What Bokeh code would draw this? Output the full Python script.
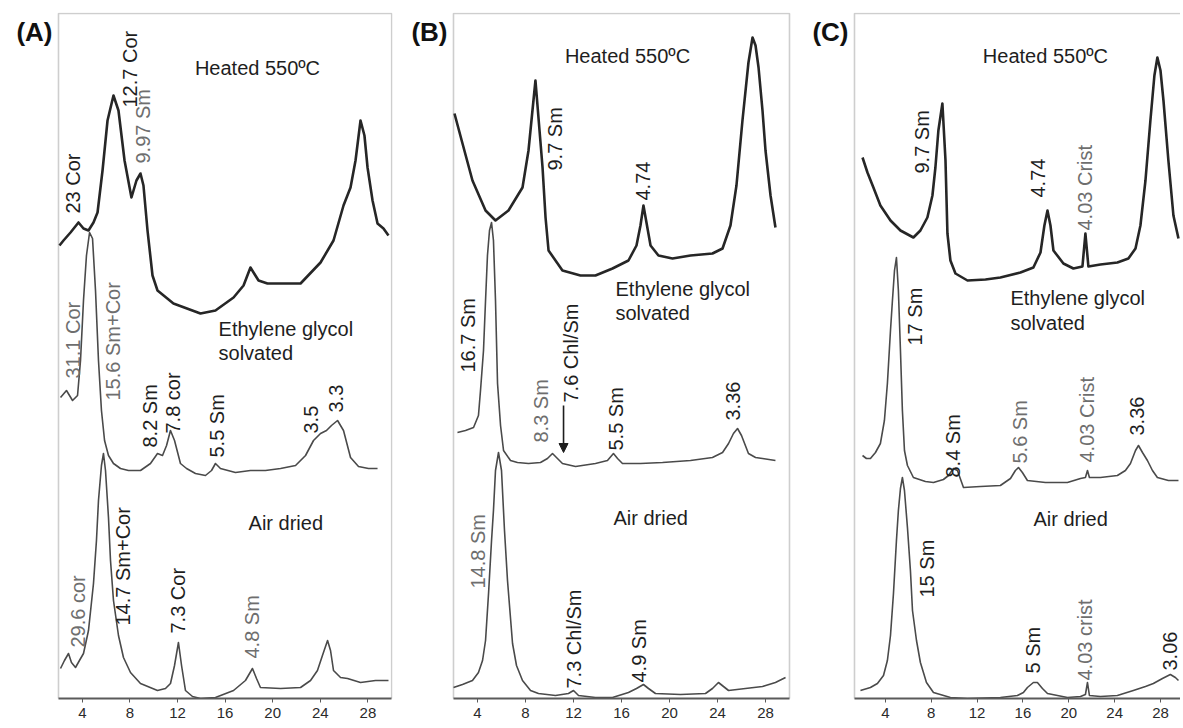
import math
from bokeh.plotting import figure
from bokeh.layouts import row
from bokeh.models import Label, Arrow, NormalHead, FixedTicker, Range1d, BoxAnnotation
from bokeh.embed import file_html
from bokeh.resources import INLINE

# ---------------- data (2-theta in degrees, intensity in arbitrary counts) ----------------
tick_values = [4, 8, 12, 16, 20, 24, 28]

# Panel A
a_heated_2t = [2.08, 2.42, 3.01, 3.68, 4.10, 4.52, 4.94, 5.28, 5.70, 6.12, 6.62, 7.04, 7.55, 8.13, 8.55, 8.89,
               9.14, 9.48, 9.90, 10.32, 11.66, 13.93, 15.19, 16.71, 17.55, 18.13, 18.81, 19.56, 21.08, 22.34,
               24.02, 25.11, 25.95, 26.54, 26.96, 27.38, 27.71, 27.97, 28.39, 28.81, 29.31, 29.73]
a_heated_i = [453, 458, 466, 476, 470, 468, 476, 486, 528, 578, 603, 588, 538, 501, 518, 525,
              513, 468, 423, 408, 395, 385, 388, 401, 413, 431, 418, 415, 415, 415,
              436, 458, 493, 511, 538, 578, 563, 531, 498, 475, 470, 463]
a_glycol_2t = [2.17, 2.67, 3.18, 3.60, 3.85, 4.10, 4.35, 4.61, 4.86, 5.11, 5.36, 5.61, 5.87, 6.20, 6.62, 7.21,
               7.88, 8.89, 9.73, 10.32, 10.74, 11.08, 11.41, 11.75, 12.25, 12.76, 13.51, 14.35, 14.86, 15.19,
               15.61, 16.87, 18.13, 19.39, 20.66, 21.92, 22.76, 23.43, 24.02, 24.52, 24.94, 25.45, 25.95,
               26.54, 27.21, 28.05, 28.81]
a_glycol_i = [301, 308, 298, 303, 338, 398, 443, 466, 460, 408, 338, 288, 258, 243, 235, 230,
              228, 228, 235, 245, 243, 253, 268, 258, 235, 230, 225, 223, 228, 235,
              230, 226, 228, 228, 230, 233, 243, 258, 265, 268, 273, 278, 268,
              241, 232, 230, 230]
a_air_2t = [2.17, 2.50, 2.84, 3.09, 3.43, 3.76, 4.10, 4.52, 4.94, 5.19, 5.36, 5.61, 5.78, 5.95, 6.20, 6.37,
            6.62, 7.04, 7.46, 8.05, 8.89, 10.32, 10.99, 11.41, 11.75, 12.08, 12.34, 12.67, 13.26, 13.93,
            15.19, 16.71, 17.71, 18.30, 18.64, 18.97, 20.66, 22.34, 23.18, 23.76, 24.18, 24.61, 24.86,
            25.11, 25.70, 26.29, 27.38, 28.64, 29.73]
a_air_i = [30, 38, 45, 36, 31, 38, 45, 68, 115, 158, 198, 233, 245, 228, 181, 138,
           98, 63, 41, 26, 15, 8, 10, 15, 33, 56, 33, 8, 2, 0,
           1, 8, 18, 30, 20, 11, 10, 11, 18, 28, 43, 58, 48,
           28, 21, 20, 16, 18, 18]

# Panel B
b_heated_2t = [2.08, 2.75, 3.58, 4.67, 5.50, 6.58, 7.75, 8.25, 8.58, 8.83, 9.08, 9.42, 9.67, 9.92, 11.08,
               12.58, 13.83, 15.25, 16.58, 17.25, 17.58, 17.83, 18.08, 18.42, 19.08, 20.25, 21.75, 23.58,
               24.42, 25.08, 25.58, 26.08, 26.58, 26.92, 27.17, 27.42, 27.75, 28.00, 28.42, 28.83]
b_heated_i = [585, 555, 518, 488, 478, 488, 511, 548, 588, 618, 581, 531, 481, 448, 428,
              423, 423, 430, 438, 453, 473, 493, 476, 453, 443, 440, 443, 445,
              450, 473, 513, 578, 636, 661, 653, 631, 588, 548, 503, 471]
b_glycol_2t = [2.33, 3.00, 3.67, 4.08, 4.25, 4.50, 4.67, 4.83, 5.00, 5.17, 5.33, 5.50, 5.67, 5.92, 6.17,
               6.75, 7.33, 8.25, 9.25, 9.83, 10.25, 10.58, 11.08, 12.17, 13.83, 14.83, 15.33, 15.67, 16.08,
               17.58, 19.42, 21.75, 23.58, 24.42, 24.92, 25.33, 25.67, 26.00, 26.58, 27.17, 27.75, 28.83]
b_glycol_i = [266, 268, 271, 283, 308, 348, 398, 443, 468, 476, 458, 398, 315, 273, 248,
              238, 236, 235, 236, 240, 245, 241, 235, 232, 235, 238, 245, 240, 235,
              235, 236, 238, 241, 246, 255, 265, 270, 263, 245, 241, 240, 238]
b_air_2t = [2.00, 2.75, 3.58, 4.08, 4.42, 4.67, 4.92, 5.17, 5.33, 5.50, 5.75, 6.00, 6.25, 6.50, 6.92,
            7.25, 7.75, 8.42, 9.08, 10.50, 11.58, 12.00, 12.42, 13.83, 15.25, 16.58, 17.25, 17.83,
            18.25, 18.83, 20.92, 23.00, 23.58, 24.08, 24.50, 24.92, 26.33, 27.75, 28.83, 29.67]
b_air_i = [11, 14, 18, 26, 38, 58, 105, 158, 188, 228, 246, 228, 168, 118, 55,
           33, 18, 8, 5, 3, 5, 8, 3, 1, 1, 6, 10, 14,
           10, 5, 4, 5, 10, 16, 12, 8, 10, 12, 16, 21]

# Panel C
c_heated_2t = [2.00, 2.43, 2.95, 3.56, 4.44, 5.31, 6.44, 7.05, 7.66, 8.10, 8.36, 8.62, 8.97, 9.24, 9.41,
               9.67, 10.11, 11.16, 12.73, 14.03, 15.78, 16.91, 17.53, 17.87, 18.14, 18.40, 18.66, 19.53,
               20.40, 21.19, 21.45, 21.71, 22.76, 24.24, 25.20, 25.82, 26.25, 26.69, 27.12, 27.47, 27.73,
               28.00, 28.26, 28.69, 29.13, 29.57]
c_heated_i = [541, 526, 511, 493, 478, 468, 461, 468, 481, 503, 531, 568, 595, 538, 465,
              438, 425, 418, 419, 421, 426, 431, 446, 473, 488, 473, 448, 435,
              430, 432, 465, 432, 434, 436, 440, 450, 473, 518, 578, 623, 641,
              628, 598, 538, 483, 460]
c_glycol_2t = [2.00, 2.34, 2.69, 3.13, 3.56, 3.91, 4.17, 4.44, 4.61, 4.79, 4.96, 5.13, 5.31, 5.48, 5.66,
               5.92, 6.44, 7.49, 8.19, 9.06, 9.50, 9.93, 10.28, 10.81, 12.29, 14.03, 14.91, 15.34, 15.61,
               15.95, 16.39, 17.96, 19.88, 21.02, 21.45, 21.63, 21.80, 22.76, 24.24, 24.94, 25.38, 25.82,
               26.08, 26.43, 26.86, 27.30, 27.73, 28.69, 29.57]
c_glycol_i = [243, 240, 240, 246, 255, 278, 315, 368, 398, 428, 441, 408, 348, 288, 248,
              233, 221, 217, 216, 219, 223, 230, 228, 211, 212, 213, 220, 228, 231,
              226, 218, 216, 216, 220, 221, 228, 221, 221, 223, 228, 235, 248,
              253, 246, 238, 228, 221, 218, 218]
c_air_2t = [1.82, 2.69, 3.30, 3.83, 4.17, 4.44, 4.70, 4.96, 5.13, 5.31, 5.48, 5.66, 5.92, 6.18, 6.36,
            6.71, 7.05, 7.58, 8.19, 9.67, 11.16, 14.03, 15.52, 16.04, 16.39, 16.91, 17.26, 17.70, 18.14,
            19.88, 21.02, 21.45, 21.63, 21.80, 22.76, 24.24, 25.63, 26.69, 27.38, 28.17, 28.86, 29.30, 29.57]
c_air_i = [8, 11, 15, 23, 38, 63, 105, 158, 188, 210, 221, 208, 171, 128, 88,
           58, 36, 16, 6, 1, 0, 1, 3, 6, 11, 16, 16, 10, 5,
           1, 2, 4, 16, 3, 2, 3, 8, 12, 15, 20, 24, 21, 18]

# ---------------- annotations ----------------
TXT = "#1e1e1e"
GRY = "#6e6e6e"
# (text, 2-theta, intensity, colour)   rotated peak labels, anchored at their bottom
a_peak_labels = [("12.7 Cor", 8.05, 591, TXT), ("9.97 Sm", 9.06, 535, GRY), ("23 Cor", 3.18, 485, TXT),
                 ("31.1 Cor", 3.26, 320, GRY), ("15.6 Sm+Cor", 6.54, 298, GRY), ("8.2 Sm", 9.65, 251, TXT),
                 ("7.8 cor", 11.66, 265, TXT), ("5.5 Sm", 15.36, 241, TXT), ("3.5", 23.18, 265, TXT),
                 ("3.3", 25.28, 286, TXT), ("29.6 cor", 3.60, 51, GRY), ("14.7 Sm+Cor", 7.46, 73, TXT),
                 ("7.3 Cor", 12.0, 65, TXT), ("4.8 Sm", 18.30, 40, GRY)]
b_peak_labels = [("9.7 Sm", 10.42, 528, TXT), ("4.74", 17.83, 498, TXT), ("16.7 Sm", 3.17, 326, TXT),
                 ("8.3 Sm", 9.25, 256, GRY), ("7.6 Chl/Sm", 11.75, 296, TXT), ("5.5 Sm", 15.5, 248, TXT),
                 ("3.36", 25.25, 278, TXT), ("14.8 Sm", 4.0, 110, GRY), ("7.3 Chl/Sm", 12.0, 10, TXT),
                 ("4.9 Sm", 17.42, 16, TXT)]
c_peak_labels = [("9.7 Sm", 7.23, 525, TXT), ("4.74", 17.35, 501, TXT), ("4.03 Crist", 21.45, 468, GRY),
                 ("17 Sm", 6.62, 353, TXT), ("8.4 Sm", 9.93, 221, TXT), ("5.6 Sm", 15.78, 235, GRY),
                 ("4.03 Crist", 21.63, 236, GRY), ("3.36", 25.99, 263, TXT), ("15 Sm", 7.66, 101, TXT),
                 ("5 Sm", 16.91, 25, TXT), ("4.03 crist", 21.45, 18, GRY), ("3.06", 28.87, 28, TXT)]
# treatment captions: (text, 2-theta, intensity, align)
a_captions = [("Heated 550ºC", 18.72, 631, "center"), ("Ethylene glycol", 15.45, 370, "left"),
              ("solvated", 15.45, 346, "left"), ("Air dried", 17.97, 176, "left")]
b_captions = [("Heated 550ºC", 16.5, 643, "center"), ("Ethylene glycol", 15.5, 410, "left"),
              ("solvated", 15.5, 386, "left"), ("Air dried", 15.33, 181, "left")]
c_captions = [("Heated 550ºC", 17.96, 643, "center"), ("Ethylene glycol", 14.91, 401, "left"),
              ("solvated", 14.91, 376, "left"), ("Air dried", 16.91, 180, "left")]

FONT = "Liberation Sans"
FIG_H = 726
TOP = 12
BOTTOM = 28


def make_panel(tag, width, box_px, px_per_deg, box_lo, box_hi, right_border,
               curves, peak_labels, captions, show_right=True):
    frame_w = width - right_border
    x_start = box_lo - box_px / px_per_deg
    x_end = x_start + frame_w / px_per_deg
    p = figure(width=width, height=FIG_H, x_range=Range1d(x_start, x_end), y_range=Range1d(0, 686),
               output_backend="svg", toolbar_location=None, y_axis_location=None,
               min_border_left=0, min_border_right=right_border, min_border_top=TOP,
               min_border_bottom=BOTTOM)
    p.grid.visible = False
    p.outline_line_color = None
    p.background_fill_color = "white"
    p.border_fill_color = "white"
    ax = p.xaxis[0]
    ax.ticker = FixedTicker(ticks=tick_values)
    ax.bounds = (box_lo, min(box_hi, x_end))
    ax.axis_line_color = "#5a5a5a"
    ax.axis_line_width = 2
    ax.major_tick_line_color = "#5a5a5a"
    ax.major_tick_out = 4
    ax.major_tick_in = 0
    ax.minor_tick_line_color = None
    ax.major_label_standoff = 5
    ax.major_label_text_font = FONT
    ax.major_label_text_font_size = "15px"
    ax.major_label_text_color = "#2a2a2a"

    # panel frame
    p.add_layout(BoxAnnotation(left=box_lo, right=box_hi if show_right else x_end + 5,
                               bottom=-5, top=685, fill_alpha=0, line_color="#5e5e5e",
                               line_width=1.6))

    for (xs, ys, lw, col) in curves:
        p.line(xs, ys, line_width=lw, line_color=col, line_join="round")

    for (t, x, y, col) in peak_labels:
        p.add_layout(Label(x=x, y=y, text=t, angle=math.pi / 2, text_align="left",
                           text_baseline="middle", text_font=FONT, text_font_size="20px",
                           text_color=col))
    for (t, x, y, al) in captions:
        p.add_layout(Label(x=x, y=y, text=t, text_align=al, text_baseline="middle",
                           text_font=FONT, text_font_size="20px", text_color=TXT))
    p.add_layout(Label(x=box_lo, y=667, x_offset=-6, text=tag, text_align="right",
                       text_baseline="middle", text_font=FONT, text_font_size="26px",
                       text_font_style="bold", text_color="#111111"))
    return p


HEAT = "#262626"
OTHER = "#4a4a4a"

pa = make_panel("(A)", 398, 58, 11.9, 2, 30, 6,
                [(a_heated_2t, a_heated_i, 2.6, HEAT), (a_glycol_2t, a_glycol_i, 1.6, OTHER),
                 (a_air_2t, a_air_i, 1.6, OTHER)], a_peak_labels, a_captions)
pb = make_panel("(B)", 400, 55, 12.0, 2, 30, 7,
                [(b_heated_2t, b_heated_i, 2.6, HEAT), (b_glycol_2t, b_glycol_i, 1.6, OTHER),
                 (b_air_2t, b_air_i, 1.6, OTHER)], b_peak_labels, b_captions)
pb.add_layout(Arrow(end=NormalHead(size=9, fill_color="#1e1e1e", line_color="#1e1e1e"),
                    x_start=11.17, y_start=293, x_end=11.17, y_end=246,
                    line_color="#1e1e1e", line_width=1.6))
pc = make_panel("(C)", 382, 56, 11.46, 1.3, 29.75, 0,
                [(c_heated_2t, c_heated_i, 2.6, HEAT), (c_glycol_2t, c_glycol_i, 1.6, OTHER),
                 (c_air_2t, c_air_i, 1.6, OTHER)], c_peak_labels, c_captions, show_right=False)

layout = row(pa, pb, pc)
open("out.html", "w").write(file_html(layout, INLINE))
